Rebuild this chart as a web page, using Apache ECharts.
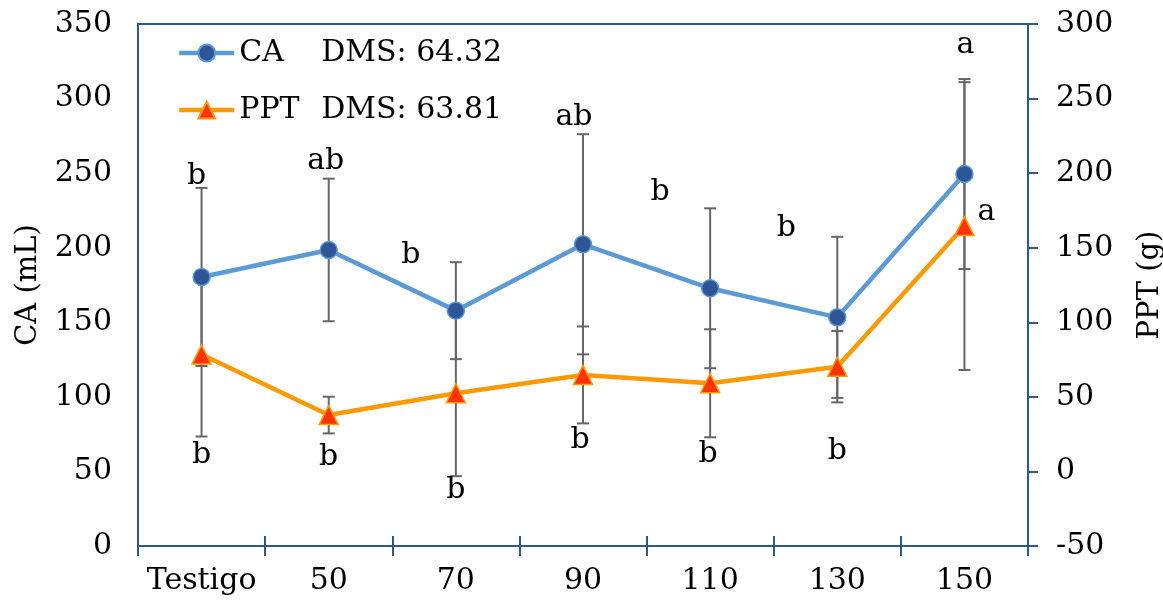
<!DOCTYPE html>
<html><head><meta charset="utf-8">
<script src="https://cdn.jsdelivr.net/npm/echarts@6/dist/echarts.min.js"></script>
<style>html,body{margin:0;padding:0;background:#fff}#c{width:1163px;height:600px}</style>
</head><body><div id="c"></div>
<script>
const categories = ['Testigo', '50', '70', '90', '110', '130', '150'];
const caValues = [180.4, 198.5, 157.8, 202.3, 172.8, 153.3, 249.4];
const caErrors = [59.7, 47.8, 32.5, 73.8, 53.6, 54.0, 63.7];
const caLetters = ['b', 'ab', 'b', 'ab', 'b', 'b', 'a'];
const pptValues = [78.4, 37.8, 52.4, 64.7, 59.1, 70.2, 164.5];
const pptErrors = [55.0, 12.3, 55.6, 32.5, 36.2, 23.9, 96.5];
const pptLetters = ['b', 'b', 'b', 'b', 'b', 'b', 'a'];
const caDMS = '64.32';
const pptDMS = '63.81';
const leftAxisTicks = { min: 0, max: 350, interval: 50 };
const rightAxisTicks = { min: -50, max: 300, interval: 50 };

// layout (pixel shifts of the significance letters from the error-bar ends)
const caLabelShift = [[-5, -12], [-3, -17], [-45, -7], [-9, -17], [-50, -16], [-51, -9], [1, -34]];
const pptLabelShift = [[0, 19], [0, 24], [0, 14], [-3, 17], [-2, 17], [0, 49], [22, -158]];

const FONT = '"DejaVu Serif", "Liberation Serif", serif';
const AXIS_COLOR = '#2E5A87';
const ERR_COLOR = '#666666';

function errSeries(name, values, errors, letters, shifts, yIdx, useTop) {
  return {
    type: 'custom', name: name, yAxisIndex: yIdx, z: 1, silent: true,
    data: values.map((v, i) => [i, v - errors[i], v + errors[i]]),
    renderItem: function (params, api) {
      const i = api.value(0);
      const lo = api.coord([i, api.value(1)]);
      const hi = api.coord([i, api.value(2)]);
      const cw = 6;
      const st = { stroke: ERR_COLOR, lineWidth: 2 };
      const anchor = useTop ? hi : lo;
      const sh = shifts[params.dataIndex];
      return {
        type: 'group',
        children: [
          { type: 'line', shape: { x1: hi[0], y1: hi[1], x2: lo[0], y2: lo[1] }, style: st },
          { type: 'line', shape: { x1: hi[0] - cw, y1: hi[1], x2: hi[0] + cw, y2: hi[1] }, style: st },
          { type: 'line', shape: { x1: lo[0] - cw, y1: lo[1], x2: lo[0] + cw, y2: lo[1] }, style: st },
          { type: 'text', x: anchor[0] + sh[0], y: anchor[1] + sh[1], z2: 10,
            style: { text: letters[params.dataIndex], fontFamily: FONT, fontSize: 30, fill: '#000',
                     align: 'center', verticalAlign: 'middle' } }
        ]
      };
    }
  };
}

const chart = echarts.init(document.getElementById('c'));
chart.setOption({
  backgroundColor: '#fff',
  animation: false,
  textStyle: { fontFamily: FONT },
  grid: { left: 138, right: 135, top: 24, bottom: 54, show: true, borderColor: AXIS_COLOR, borderWidth: 2,
          outerBoundsMode: 'none' },
  legend: {
    orient: 'vertical', left: 172, top: 33, itemWidth: 55, itemHeight: 21, itemGap: 27,
    data: ['CA', 'PPT'],
    lineStyle: { width: 4.5 },
    formatter: function (n) {
      return n === 'CA' ? '{a|CA}{b|DMS: ' + caDMS + '}' : '{a|PPT}{b|DMS: ' + pptDMS + '}';
    },
    textStyle: {
      fontFamily: FONT, fontSize: 30, color: '#000',
      rich: { a: { width: 82, fontFamily: FONT, fontSize: 30, color: '#000' },
              b: { fontFamily: FONT, fontSize: 30, color: '#000' } }
    }
  },
  xAxis: [
    {
      type: 'category', data: categories, position: 'bottom',
      axisLine: { onZero: false, lineStyle: { color: AXIS_COLOR, width: 2 } },
      axisTick: { show: true, interval: 0, length: 10, lineStyle: { color: AXIS_COLOR, width: 2 } },
      axisLabel: { interval: 0, fontFamily: FONT, fontSize: 30, color: '#000', margin: 20 }
    },
    {
      type: 'category', data: categories, position: 'bottom',
      axisLine: { show: false, onZero: false },
      axisTick: { show: true, interval: 0, inside: true, length: 10, lineStyle: { color: AXIS_COLOR, width: 2 } },
      axisLabel: { show: false }
    }
  ],
  yAxis: [
    {
      type: 'value', position: 'left', min: leftAxisTicks.min, max: leftAxisTicks.max, interval: leftAxisTicks.interval,
      name: 'CA (mL)', nameLocation: 'middle', nameGap: 95,
      nameTextStyle: { fontFamily: FONT, fontSize: 29, color: '#000' },
      axisLine: { show: true, lineStyle: { color: AXIS_COLOR, width: 2 } },
      axisTick: { show: false },
      splitLine: { show: false },
      axisLabel: { fontFamily: FONT, fontSize: 30, color: '#000', margin: 26 }
    },
    {
      type: 'value', position: 'right', min: rightAxisTicks.min, max: rightAxisTicks.max, interval: rightAxisTicks.interval,
      name: 'PPT (g)', nameLocation: 'middle', nameGap: 108,
      nameTextStyle: { fontFamily: FONT, fontSize: 29, color: '#000' },
      axisLine: { show: true, lineStyle: { color: AXIS_COLOR, width: 2 } },
      axisTick: { show: true, length: 10, lineStyle: { color: AXIS_COLOR, width: 2 } },
      splitLine: { show: false },
      axisLabel: { fontFamily: FONT, fontSize: 30, color: '#000', margin: 28 }
    }
  ],
  series: [
    errSeries('CA err', caValues, caErrors, caLetters, caLabelShift, 0, true),
    errSeries('PPT err', pptValues, pptErrors, pptLetters, pptLabelShift, 1, false),
    {
      name: 'CA', type: 'line', yAxisIndex: 0, z: 3, data: caValues,
      symbol: 'circle', symbolSize: 17,
      lineStyle: { color: '#5B9BD5', width: 4.5 },
      itemStyle: { color: '#2F5597', borderColor: '#5B9BD5', borderWidth: 1.5 }
    },
    {
      name: 'PPT', type: 'line', yAxisIndex: 1, z: 3, data: pptValues,
      symbol: 'triangle', symbolSize: 19,
      lineStyle: { color: '#FF9900', width: 4.5 },
      itemStyle: { color: '#FF3300', borderColor: '#FF9900', borderWidth: 1.5 }
    }
  ]
});
</script>
</body></html>
